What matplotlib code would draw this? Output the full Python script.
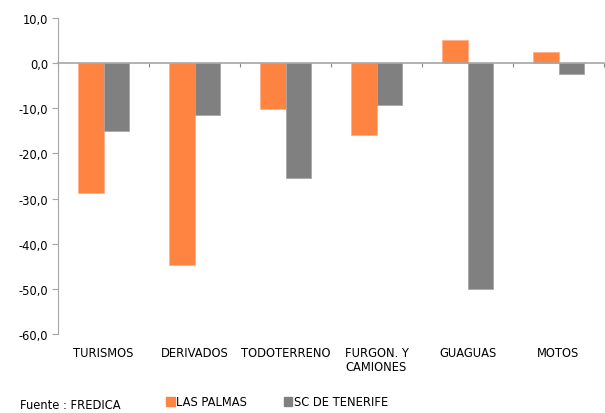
import numpy as np
import matplotlib.pyplot as plt
from matplotlib.patches import Patch
from matplotlib.transforms import blended_transform_factory

categorias = ['TURISMOS', 'DERIVADOS', 'TODOTERRENO', 'FURGON. Y\nCAMIONES', 'GUAGUAS', 'MOTOS']
las_palmas = [-28.8, -44.7, -10.2, -15.9, 5.1, 2.4]
sc_tenerife = [-15.1, -11.4, -25.4, -9.2, -50.1, -2.3]
yticks = [10, 0, -10, -20, -30, -40, -50, -60]

c_lp = '#FF8442'
c_sc = '#808080'
fs = 8.3

fig = plt.figure(figsize=(6.05, 4.14), dpi=100)
ax = fig.add_axes([58/605, 1-335/414, 546/605, 316/414])

x = np.arange(len(categorias))
w = 0.285
ax.bar(x - w/2, las_palmas, w, color=c_lp, edgecolor='#FFB08A', linewidth=0.6)
ax.bar(x + w/2, sc_tenerife, w, color=c_sc, edgecolor='#A6A6A6', linewidth=0.6)

ax.set_xlim(-0.5, len(categorias) - 0.5)
ax.set_ylim(-60, 10)
ax.set_yticks(yticks)
ax.set_yticklabels([('%.1f' % v).replace('.', ',') for v in yticks], fontsize=fs)

for s in ['top', 'right']:
    ax.spines[s].set_visible(False)
ax.spines['left'].set_color('#A6A6A6')
ax.spines['bottom'].set_position(('data', 0))
ax.spines['bottom'].set_color('#A6A6A6')
ax.spines['bottom'].set_linewidth(1.2)
ax.tick_params(axis='y', colors='#A6A6A6', labelcolor='black', length=4, width=0.8, pad=3)
ax.set_xticks(np.arange(len(categorias) + 1) - 0.5)
ax.set_xticklabels([])
ax.tick_params(axis='x', colors='#888888', length=3, width=0.8, direction='out')

tr = blended_transform_factory(ax.transData, ax.transAxes)
for xi, c in zip(x, categorias):
    ax.text(xi, -0.038, c, transform=tr, ha='center', va='top', fontsize=fs,
            linespacing=1.05)

handles = [Patch(color=c_lp, label='LAS PALMAS'), Patch(color=c_sc, label='SC DE TENERIFE')]
fig.legend(handles=handles, loc='center', bbox_to_anchor=(277/605, 1-403/414), ncol=2,
           frameon=False, fontsize=fs, handlelength=0.75, handleheight=0.75,
           handletextpad=0.1, columnspacing=3.2)

fig.text(20/605, 2/414, 'Fuente : FREDICA', fontsize=fs, va='bottom')

fig.savefig('out.png', dpi=100)
